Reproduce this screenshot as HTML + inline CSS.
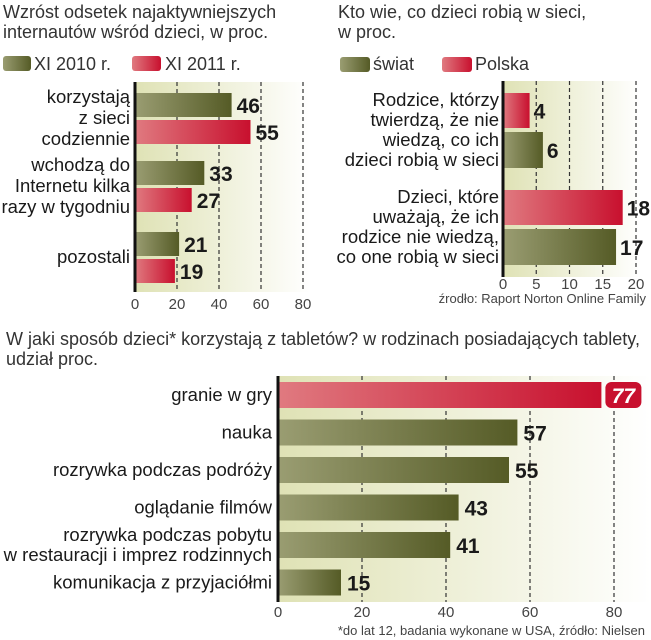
<!DOCTYPE html>
<html><head><meta charset="utf-8"><style>
body{margin:0;background:#fff}
svg{display:block}
text{font-family:"Liberation Sans Narrow","Liberation Sans",sans-serif;fill:#222}
.t{font-size:18px;fill:#333}
.lab{font-size:18.5px;text-anchor:end;fill:#1a1a1a}
.val{font-size:21px;font-weight:bold;fill:#1a1a1a}
.tick{font-size:15px;fill:#444;text-anchor:middle}
.src{font-size:13px;fill:#444}
</style></head><body>
<svg id="s" width="651" height="640" viewBox="0 0 651 640">
<defs>
<linearGradient id="gG" x1="0" x2="1"><stop offset="0" stop-color="#9a9d72"/><stop offset="1" stop-color="#555b26"/></linearGradient>
<linearGradient id="gR" x1="0" x2="1"><stop offset="0" stop-color="#e07a80"/><stop offset="1" stop-color="#c8102e"/></linearGradient>
<linearGradient id="bg" x1="0" x2="1"><stop offset="0" stop-color="#dfe2b5"/><stop offset="1" stop-color="#ffffff"/></linearGradient>
</defs>
<text class="t" x="3" y="18">Wzróst odsetek najaktywniejszych</text>
<text class="t" x="3" y="38">internautów wśród dzieci, w proc.</text>
<rect x="3" y="56" width="28" height="15" rx="3" fill="url(#gG)"/>
<text class="t" x="34" y="70">XI 2010 r.</text>
<rect x="132" y="56" width="29" height="15" rx="3" fill="url(#gR)"/>
<text class="t" x="165" y="70">XI 2011 r.</text>
<text class="t" x="338" y="18">Kto wie, co dzieci robią w sieci,</text>
<text class="t" x="338" y="38">w proc.</text>
<rect x="340" y="57" width="30" height="15" rx="3" fill="url(#gG)"/>
<text class="t" x="373" y="70">świat</text>
<rect x="442" y="57" width="30" height="15" rx="3" fill="url(#gR)"/>
<text class="t" x="475" y="70">Polska</text>
<text class="t" x="6" y="345">W jaki sposób dzieci* korzystają z tabletów? w rodzinach posiadających tablety,</text>
<text class="t" x="6" y="365">udział proc.</text>
<text class="src" x="645" y="635" text-anchor="end">*do lat 12, badania wykonane w USA, źródło: Nielsen</text>
<text class="src" x="646" y="303" text-anchor="end">źrodło: Raport Norton Online Family</text>
<text class="src" transform="translate(280,290) rotate(-90)"><tspan x="0" y="0">źródło: Megapanel PBI</tspan><tspan x="0" y="14">/Gemius grupa 7-14 lat</tspan></text>
<g id="c1"></g><g id="c2"></g><g id="c3"></g>
</svg>
<script>
// chart 1
const c1Cats=[["korzystają","z sieci","codziennie"],["wchodzą do","Internetu kilka","razy w tygodniu"],["pozostali"]];
const c1Y2010=[46,33,21];
const c1Y2011=[55,27,19];
const c1Ticks=[0,20,40,60,80];
// chart 2
const c2Cats=[["Rodzice, którzy","twierdzą, że nie","wiedzą, co ich","dzieci robią w sieci"],["Dzieci, które","uważają, że ich","rodzice nie wiedzą,","co one robią w sieci"]];
const c2Polska=[4,18];
const c2Swiat=[6,17];
const c2Ticks=[0,5,10,15,20];
// chart 3
const c3Cats=[["granie w gry"],["nauka"],["rozrywka podczas podróży"],["oglądanie filmów"],["rozrywka podczas pobytu","w restauracji i imprez rodzinnych"],["komunikacja z przyjaciółmi"]];
const c3Vals=[77,57,55,43,41,15];
const c3Ticks=[0,20,40,60,80];

const NS="http://www.w3.org/2000/svg";
function mk(p,t,a){const e=document.createElementNS(NS,t);for(const k in a)e.setAttribute(k,a[k]);p.appendChild(e);return e;}
function txt(p,cls,x,y,s){const e=mk(p,"text",{class:cls,x:x,y:y});e.textContent=s;return e;}

function frame(g,x0,sc,top,bot,right,ticks,tickY,name){
  const bgr=mk(g,"rect",{x:x0,y:top,width:right-x0,height:bot-top,fill:"url(#bg)"});
  
  
  ticks.forEach(t=>{
    const x=x0+t*sc;
    if(t>0){const l=mk(g,"line",{x1:x,x2:x,y1:top,y2:bot,stroke:"#333","stroke-width":1.2,"stroke-dasharray":"4,3"});
      
      }
    const tl=txt(g,"tick",x,tickY,String(t));
    
    
  });
}
function axis(g,x0,top,bot,name){
  const a=mk(g,"line",{x1:x0,x2:x0,y1:top,y2:bot,stroke:"#111","stroke-width":3});
  
  
}
function bar(g,x0,sc,y,h,v,fill,name,lx){
  const r=mk(g,"rect",{x:x0,y:y,width:v*sc,height:h,fill:fill});
  
  
  const t=txt(g,"val",x0+v*sc+(lx||5),y+h/2+8,String(v));
  
  
}
function label(g,lines,x,cy,lh,name){
  const n=lines.length;
  lines.forEach((s,i)=>{
    const t=txt(g,"lab",x,cy-(n-1)*lh/2+i*lh+6,s);
    
    
  });
}
// chart 1
(function(){
  const g=document.getElementById("c1");const x0=135,sc=2.1,top=82,bot=292;
  frame(g,x0,sc,top,bot,310,c1Ticks,309,"chart1");
  const groupTop=[93,161,232];
  c1Cats.forEach((c,i)=>{
    const y=groupTop[i];
    bar(g,x0,sc,y,24,c1Y2010[i],"url(#gG)","bar-2010-"+i);
    bar(g,x0,sc,y+27,24,c1Y2011[i],"url(#gR)","bar-2011-"+i);
    label(g,c,130,y+25,21,"chart1-category-label");
  });
  axis(g,x0,top,bot,"chart1");
})();
// chart 2
(function(){
  const g=document.getElementById("c2");const x0=503,sc=6.65,top=81,bot=277;
  frame(g,x0,sc,top,bot,640,c2Ticks,289,"chart2");
  const groupTop=[93,190];
  c2Cats.forEach((c,i)=>{
    const y=groupTop[i];
    bar(g,x0,sc,y,35,c2Polska[i],"url(#gR)","bar-polska-"+i,4);
    bar(g,x0,sc,y+39,36,c2Swiat[i],"url(#gG)","bar-swiat-"+i,4);
    label(g,c,499,y+37,20,"chart2-category-label");
  });
  axis(g,x0,top,bot,"chart2");
})();
// chart 3
(function(){
  const g=document.getElementById("c3");const x0=278,sc=4.2,top=376,bot=602;
  frame(g,x0,sc,top,bot,651,c3Ticks,617,"chart3");
  c3Cats.forEach((c,i)=>{
    const y=382+i*37.5;
    if(i===0){
      const r=mk(g,"rect",{x:x0,y:y,width:c3Vals[i]*sc,height:26,fill:"url(#gR)"});
      
      
      const bx=x0+c3Vals[i]*sc+4;
      const b=mk(g,"rect",{x:bx,y:y,width:36,height:26,rx:6,fill:"#c8102e"});
      
      
      const t=txt(g,"val",bx+18,y+21,String(c3Vals[i]));
      t.setAttribute("text-anchor","middle");t.style.fill="#fff";t.style.fontStyle="italic";
      
      
    } else bar(g,x0,sc,y,26,c3Vals[i],"url(#gG)","bar-tablet-"+i,6);
    label(g,c,272,y+13,20,"chart3-category-label");
  });
  axis(g,x0,top,bot,"chart3");
})();
</script>
</body></html>
